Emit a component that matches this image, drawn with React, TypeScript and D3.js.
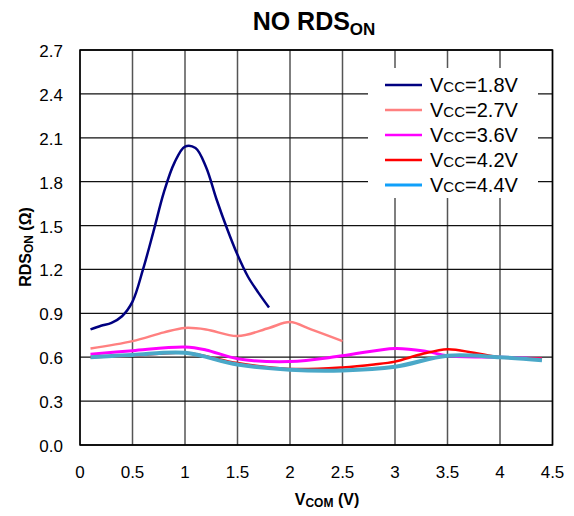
import React from "react";
import * as d3 from "d3";

const xTicks = [0, 0.5, 1, 1.5, 2, 2.5, 3, 3.5, 4, 4.5];
const yTicks = [0, 0.3, 0.6, 0.9, 1.2, 1.5, 1.8, 2.1, 2.4, 2.7];

const v18x = [0.1, 0.2, 0.3, 0.4, 0.5, 0.6, 0.7, 0.8, 0.9, 1.0, 1.1, 1.2, 1.3, 1.4, 1.5, 1.6, 1.7, 1.8];
const v18y = [0.79, 0.815, 0.835, 0.88, 0.98, 1.2, 1.46, 1.73, 1.93, 2.04, 2.03, 1.9, 1.68, 1.48, 1.3, 1.15, 1.04, 0.94];

const v27x = [0.1, 0.5, 0.8, 1.0, 1.2, 1.5, 1.8, 2.0, 2.2, 2.5];
const v27y = [0.66, 0.71, 0.77, 0.8, 0.79, 0.745, 0.8, 0.84, 0.79, 0.71];

const v36x = [0.1, 0.5, 1.0, 1.2, 1.5, 2.0, 2.5, 3.0, 3.3, 3.5, 4.0, 4.4];
const v36y = [0.62, 0.645, 0.67, 0.65, 0.59, 0.57, 0.61, 0.66, 0.64, 0.61, 0.6, 0.59];

const v42x = [0.1, 0.5, 1.0, 1.5, 2.0, 2.5, 2.8, 3.0, 3.25, 3.5, 3.75, 4.0, 4.4];
const v42y = [0.6, 0.61, 0.63, 0.56, 0.52, 0.53, 0.55, 0.57, 0.62, 0.655, 0.63, 0.6, 0.59];

const v44x = [0.1, 0.5, 1.0, 1.5, 2.0, 2.5, 3.0, 3.5, 4.0, 4.4];
const v44y = [0.6, 0.615, 0.63, 0.55, 0.515, 0.51, 0.535, 0.61, 0.6, 0.58];

const seriesNames = ["1.8V", "2.7V", "3.6V", "4.2V", "4.4V"];

const series = [
  { name: seriesNames[0], xs: v18x, ys: v18y, color: "#000080", legend: "#000080", w: 2.5 },
  { name: seriesNames[1], xs: v27x, ys: v27y, color: "#ff8080", legend: "#ff8080", w: 2.5 },
  { name: seriesNames[2], xs: v36x, ys: v36y, color: "#ff00ff", legend: "#ff00ff", w: 3 },
  { name: seriesNames[3], xs: v42x, ys: v42y, color: "#ff0000", legend: "#ff0000", w: 2.5 },
  { name: seriesNames[4], xs: v44x, ys: v44y, color: "#4aa8c8", legend: "#10a0fa", w: 4 },
];

const W = 574, H = 516;
const left = 80, right = 552.5, top = 50, bottom = 445;

export default function App() {
  const x = d3.scaleLinear().domain([0, 4.5]).range([left, right]);
  const y = d3.scaleLinear().domain([0, 2.7]).range([bottom, top]);
  const line = d3
    .line<[number, number]>()
    .x((d) => x(d[0]))
    .y((d) => y(d[1]))
    .curve(d3.curveCatmullRom.alpha(0.5));

  const font = "Arial, 'Liberation Sans', sans-serif";

  return (
    <svg width={W} height={H} style={{ position: "absolute", left: 0, top: 0 }} fontFamily={font}>
      <rect x={0} y={0} width={W} height={H} fill="#fff" />
      {xTicks.map((t) => (
        <line key={"gx" + t} x1={x(t)} x2={x(t)} y1={top} y2={bottom} stroke="#555" strokeWidth={1.5} />
      ))}
      {yTicks.map((t) => (
        <line key={"gy" + t} x1={left} x2={right} y1={y(t)} y2={y(t)} stroke="#111" strokeWidth={1.3} />
      ))}
      <rect x={368} y={68} width={170} height={130} fill="#fff" />
      <rect x={left} y={top} width={right - left} height={bottom - top} fill="none" stroke="#000" strokeWidth={1.5} />
      {series.map((s) => (
        <path
          key={s.name}
          d={line(s.xs.map((v, i) => [v, s.ys[i]] as [number, number])) || ""}
          fill="none"
          stroke={s.color}
          strokeWidth={s.w}
          strokeLinejoin="round"
          strokeLinecap="butt"
        />
      ))}
      {series.map((s, i) => {
        const ly = 85 + i * 25;
        return (
          <g key={"lg" + s.name}>
            <line x1={385} x2={422} y1={ly} y2={ly} stroke={s.legend} strokeWidth={s.w === 4 ? 3 : 2.5} />
            <text x={430} y={ly + 7} fontSize={20} fill="#000">
              V<tspan fontSize={15}>CC</tspan>={s.name}
            </text>
          </g>
        );
      })}
      {yTicks.map((t) => (
        <text key={"yt" + t} x={63} y={y(t) + 7} fontSize={17} textAnchor="end" fill="#000">
          {t.toFixed(1)}
        </text>
      ))}
      {xTicks.map((t) => (
        <text key={"xt" + t} x={x(t)} y={478} fontSize={17} textAnchor="middle" fill="#000">
          {String(t)}
        </text>
      ))}
      <text x={314} y={30} fontSize={25} fontWeight="bold" textAnchor="middle" fill="#000">
        NO RDS<tspan fontSize={17} dy={5}>ON</tspan>
      </text>
      <text x={327} y={505} fontSize={16} fontWeight="bold" textAnchor="middle" fill="#000">
        V<tspan fontSize={12} dy={2}>COM</tspan>
        <tspan dy={-2}> (V)</tspan>
      </text>
      <text
        transform={`translate(31,${247}) rotate(-90)`}
        fontSize={16}
        fontWeight="bold"
        textAnchor="middle"
        fill="#000"
      >
        RDS<tspan fontSize={12} dy={2}>ON</tspan>
        <tspan dy={-2}> (Ω)</tspan>
      </text>
    </svg>
  );
}
